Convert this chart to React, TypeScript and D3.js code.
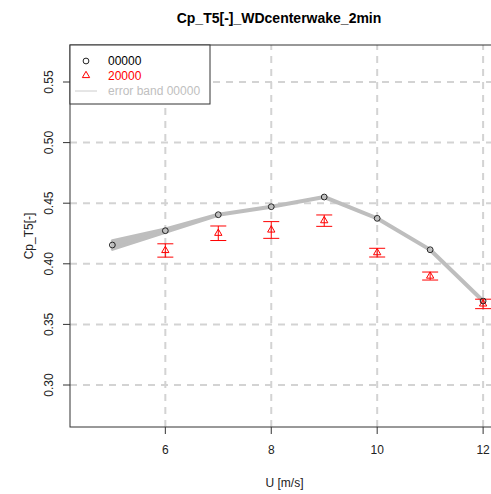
import React from "react";
import * as d3 from "d3";

// Wind speeds (m/s)
const speedsA = [5, 6, 7, 8, 9, 10, 11, 12];
const speedsB = [6, 7, 8, 9, 10, 11, 12];

// Series "00000": mean Cp and spread for the error band
const meanA = [0.4155, 0.4273, 0.4405, 0.4471, 0.4551, 0.4375, 0.4116, 0.3693];
const sdA = [0.0035, 0.0013, 0.0004, 0.0004, 0.0004, 0.0004, 0.0004, 0.0004];

// Series "20000": mean Cp and half-width of the error bars
const meanB = [0.411, 0.4252, 0.4279, 0.4356, 0.4092, 0.3899, 0.3669];
const sdB = [0.0055, 0.006, 0.0069, 0.0047, 0.0036, 0.0033, 0.0039];

const xTicks = [6, 8, 10, 12];
const yTicks = [0.3, 0.35, 0.4, 0.45, 0.5, 0.55];

const legendLabels = ["00000", "20000", "error band 00000"];
const title = "Cp_T5[-]_WDcenterwake_2min";
const xLabel = "U [m/s]";
const yLabel = "Cp_T5[-]";

const W = 491;
const H = 494;
const left = 70;
const right = 499;
const top = 45;
const bottom = 427;

const FONT = "'Liberation Sans', Arial, Helvetica, sans-serif";
const GRID = "#d3d3d3";
const BAND = "#bebebe";
const RED = "#ff0000";
const AXIS = "#333333";

export default function App() {
  const x = d3.scaleLinear().domain([4.2, 12.3]).range([left, right]);
  const y = d3
    .scaleLinear()
    .domain([0.30 - (bottom - 385) / 1212, 0.30 + (385 - top) / 1212])
    .range([bottom, top]);

  const bandData = speedsA.map((s, i) => ({
    s,
    lo: meanA[i] - sdA[i],
    hi: meanA[i] + sdA[i],
  }));
  const band = d3
    .area<{ s: number; lo: number; hi: number }>()
    .x((d) => x(d.s))
    .y0((d) => y(d.lo))
    .y1((d) => y(d.hi));

  const tri = (cx: number, cy: number) => {
    const r = 4.2;
    const xc = 3.65;
    const yc = 2.1;
    return `M${cx},${cy - r}L${cx + xc},${cy + yc}L${cx - xc},${cy + yc}Z`;
  };

  const capHalf = 8;

  return (
    <svg
      width={W}
      height={H}
      style={{ position: "absolute", left: 0, top: 0, background: "#fff" }}
      fontFamily={FONT}
    >
      <rect x={0} y={0} width={W} height={H} fill="#fff" />
      <defs>
        <clipPath id="plotArea">
          <rect x={left} y={top} width={right - left} height={bottom - top} />
        </clipPath>
      </defs>

      {/* grid */}
      <g clipPath="url(#plotArea)">
        {yTicks.map((t) => (
          <line
            key={"gy" + t}
            x1={left}
            x2={right}
            y1={y(t)}
            y2={y(t)}
            stroke={GRID}
            strokeWidth={2}
            strokeDasharray="7 6"
          />
        ))}
        {xTicks.map((t) => (
          <line
            key={"gx" + t}
            x1={x(t)}
            x2={x(t)}
            y1={bottom}
            y2={top}
            stroke={GRID}
            strokeWidth={2}
            strokeDasharray="7 6"
          />
        ))}
      </g>

      {/* error band for 00000 */}
      <path
        d={band(bandData) || ""}
        fill={BAND}
        stroke={BAND}
        strokeWidth={3.2}
        strokeLinejoin="round"
      />

      {/* 20000 error bars and triangles */}
      {speedsB.map((s, i) => {
        const cx = x(s);
        const y1 = y(meanB[i] + sdB[i]);
        const y2 = y(meanB[i] - sdB[i]);
        return (
          <g key={"b" + s} stroke={RED} fill="none" strokeWidth={1}>
            <line x1={cx} x2={cx} y1={y1} y2={y2} />
            <line x1={cx - capHalf} x2={cx + capHalf} y1={y1} y2={y1} />
            <line x1={cx - capHalf} x2={cx + capHalf} y1={y2} y2={y2} />
            <path d={tri(cx, y(meanB[i]))} />
          </g>
        );
      })}

      {/* 00000 points */}
      {speedsA.map((s, i) => (
        <circle
          key={"a" + s}
          cx={x(s)}
          cy={y(meanA[i])}
          r={2.9}
          fill="none"
          stroke="#222"
          strokeWidth={1}
        />
      ))}

      {/* plot frame */}
      <rect
        x={left}
        y={top}
        width={right - left}
        height={bottom - top}
        fill="none"
        stroke={AXIS}
        strokeWidth={1}
      />

      {/* x axis */}
      {xTicks.map((t) => (
        <g key={"xt" + t}>
          <line x1={x(t)} x2={x(t)} y1={bottom} y2={bottom + 7} stroke={AXIS} />
          <text
            x={x(t)}
            y={454}
            textAnchor="middle"
            fontSize={12}
            fill="#222"
          >
            {t}
          </text>
        </g>
      ))}
      <text x={(left + right) / 2} y={487} textAnchor="middle" fontSize={12} fill="#222">
        {xLabel}
      </text>

      {/* y axis */}
      {yTicks.map((t) => (
        <g key={"yt" + t}>
          <line x1={left - 7} x2={left} y1={y(t)} y2={y(t)} stroke={AXIS} />
          <text
            transform={`translate(53,${y(t)}) rotate(-90)`}
            textAnchor="middle"
            fontSize={12}
            fill="#222"
          >
            {d3.format(".2f")(t)}
          </text>
        </g>
      ))}
      <text
        transform={`translate(33,${(top + bottom) / 2}) rotate(-90)`}
        textAnchor="middle"
        fontSize={12}
        fill="#222"
      >
        {yLabel}
      </text>

      {/* title */}
      <text x={279} y={23} textAnchor="middle" fontSize={14} fontWeight="bold" fill="#000">
        {title}
      </text>

      {/* legend */}
      <g>
        <rect x={left} y={top} width={140} height={59} fill="#fff" stroke={AXIS} strokeWidth={1} />
        <circle cx={86} cy={61} r={2.9} fill="none" stroke="#222" strokeWidth={1} />
        <path d={tri(86, 75.5)} fill="none" stroke={RED} strokeWidth={1} />
        <line x1={75} x2={97} y1={91} y2={91} stroke="#cccccc" strokeWidth={1} />
        <text x={108} y={65} fontSize={12} fill="#000">
          {legendLabels[0]}
        </text>
        <text x={108} y={79.5} fontSize={12} fill={RED}>
          {legendLabels[1]}
        </text>
        <text x={108} y={95} fontSize={12} fill="#c0c0c0">
          {legendLabels[2]}
        </text>
      </g>
    </svg>
  );
}
